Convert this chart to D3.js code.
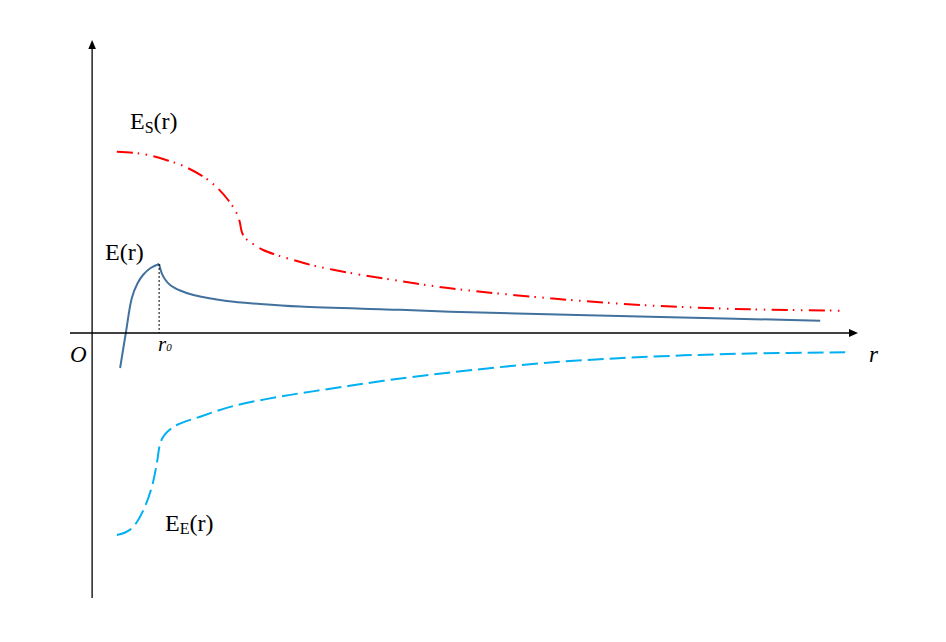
<!DOCTYPE html>
<html>
<head>
<meta charset="utf-8">
<script src="https://cdn.jsdelivr.net/npm/d3@7"></script>
<style>
    body { margin: 0; background: #fff; }
    text { font-family: "Liberation Serif", "Times New Roman", "DejaVu Serif", serif; fill: #000; }
    .axis { stroke: #000; stroke-width: 1.3; fill: none; }
    .arrow { fill: #000; }
    .guide { stroke: #000; stroke-width: 1; stroke-dasharray: 2 2; }
    .curve { fill: none; stroke-width: 2; }
    .total { stroke: #41719c; }
    .surface { stroke: #ff0000; stroke-dasharray: 16 5 1.5 6.5 1.5 6.5; }
    .elastic { stroke: #00b0f0; stroke-dasharray: 16 6; }
</style>
</head>
<body>
<script>
'use strict';

// r in units of r0, energy in arbitrary units
const r0 = 1;

// E(r): rising branch up to r0, then the decaying branch
const totalInner = [
    [0.418, -0.35], [0.503, 0], [0.593, 0.35], [0.68, 0.5], [0.766, 0.585], [0.873, 0.65], [1.0, 0.69]
];
const totalOuter = [
    [1.0, 0.69], [1.04, 0.597], [1.09, 0.535], [1.164, 0.48], [1.313, 0.425], [1.512, 0.38],
    [2.01, 0.32], [2.507, 0.29], [3.104, 0.264], [4.597, 0.232], [5.343, 0.213], [6.8, 0.188],
    [8.328, 0.163], [10.866, 0.123]
];

// E_S(r)
const surface = [
    [0.369, 1.813], [0.616, 1.803], [0.84, 1.78], [1.139, 1.723], [1.363, 1.67], [1.661, 1.563],
    [1.851, 1.463], [2.03, 1.33], [2.14, 1.22], [2.2, 1.12], [2.23, 1.02], [2.27, 0.96],
    [2.358, 0.91], [2.552, 0.83], [2.757, 0.78], [3.0, 0.73], [3.3, 0.675],
    [3.6, 0.632], [4.0, 0.583], [4.642, 0.515], [5.343, 0.447], [6.836, 0.347],
    [8.328, 0.275], [9.821, 0.237], [11.21, 0.223]
];

// E_E(r)
const elastic = [
    [0.369, -2.02], [0.493, -1.995], [0.612, -1.94], [0.766, -1.77], [0.891, -1.54], [0.966, -1.303],
    [1.01, -1.12], [1.05, -1.05], [1.12, -0.99], [1.264, -0.92], [1.612, -0.837], [2.109, -0.73],
    [2.855, -0.63], [3.601, -0.553], [4.348, -0.478], [5.318, -0.397], [6.836, -0.295], [8.328, -0.237],
    [9.821, -0.205], [11.239, -0.193]
];

const xDomain = [-0.33, 11.43];
const yDomain = [-2.65, 2.93];

(function () {

    const width = 946;
    const height = 642;

    function makeScales() {
        return {
            x: d3.scaleLinear().domain(xDomain).range([70, 858]),
            y: d3.scaleLinear().domain(yDomain).range([598, 40])
        };
    }

    /**
     * Plain axes through the origin, each ending in a filled arrow head.
     */
    function appendAxes(svg, s) {
        const x0 = s.x(0);
        const y0 = s.y(0);
        const xEnd = s.x(xDomain[1]);
        const yTop = s.y(yDomain[1]);
        svg.append('line').attr('class', 'axis')
            .attr('x1', s.x(xDomain[0])).attr('y1', y0)
            .attr('x2', xEnd - 6).attr('y2', y0);
        svg.append('line').attr('class', 'axis')
            .attr('x1', x0).attr('y1', s.y(yDomain[0]))
            .attr('x2', x0).attr('y2', yTop + 6);
        svg.append('path').attr('class', 'arrow')
            .attr('d', 'M' + xEnd + ',' + y0 + ' l-9,-4 l0,8 z');
        svg.append('path').attr('class', 'arrow')
            .attr('d', 'M' + x0 + ',' + yTop + ' l-3.8,9 l7.6,0 z');
    }

    function appendCurves(svg, s) {
        const line = d3.line()
            .x(d => s.x(d[0]))
            .y(d => s.y(d[1]))
            .curve(d3.curveCatmullRom.alpha(0.5));
        svg.append('path').attr('class', 'curve surface').attr('d', line(surface));
        svg.append('path').attr('class', 'curve elastic').attr('d', line(elastic));
        svg.append('path').attr('class', 'curve total').attr('d', line(totalInner));
        svg.append('path').attr('class', 'curve total').attr('d', line(totalOuter));

        // dotted drop line from the peak at r0
        const peak = totalInner[totalInner.length - 1];
        svg.append('line').attr('class', 'guide')
            .attr('x1', s.x(r0)).attr('y1', s.y(peak[1]))
            .attr('x2', s.x(r0)).attr('y2', s.y(0));
    }

    function appendLabel(svg, x, y, main, sub, size, subSize, subDy, italic) {
        const t = svg.append('text')
            .attr('x', x).attr('y', y)
            .style('font-size', size + 'px')
            .style('font-style', italic ? 'italic' : 'normal');
        t.append('tspan').text(main);
        if (sub) {
            t.append('tspan').attr('dy', subDy).style('font-size', subSize + 'px').text(sub.text);
            t.append('tspan').attr('dy', -subDy).text(sub.after);
        }
    }

    function appendLabels(svg, s) {
        appendLabel(svg, 130, 129, 'E', { text: 'S', after: '(r)' }, 24, 16, 4, false);
        appendLabel(svg, 105, 260, 'E(r)', null, 24, 0, 0, false);
        appendLabel(svg, 165, 531, 'E', { text: 'E', after: '(r)' }, 24, 16, 3, false);
        appendLabel(svg, s.x(0) - 22, s.y(0) + 29, 'O', null, 23, 0, 0, true);
        appendLabel(svg, s.x(r0) - 1, s.y(0) + 18, 'r', { text: '0', after: '' }, 21, 11, 0, true);
        appendLabel(svg, s.x(xDomain[1]) + 11, s.y(0) + 29, 'r', null, 23, 0, 0, true);
    }

    function draw() {
        const svg = d3.select('body').append('svg')
            .attr('width', width)
            .attr('height', height);
        const scales = makeScales();
        appendCurves(svg, scales);
        appendAxes(svg, scales);
        appendLabels(svg, scales);
    }

    window.onload = draw;

})();
</script>
</body>
</html>
